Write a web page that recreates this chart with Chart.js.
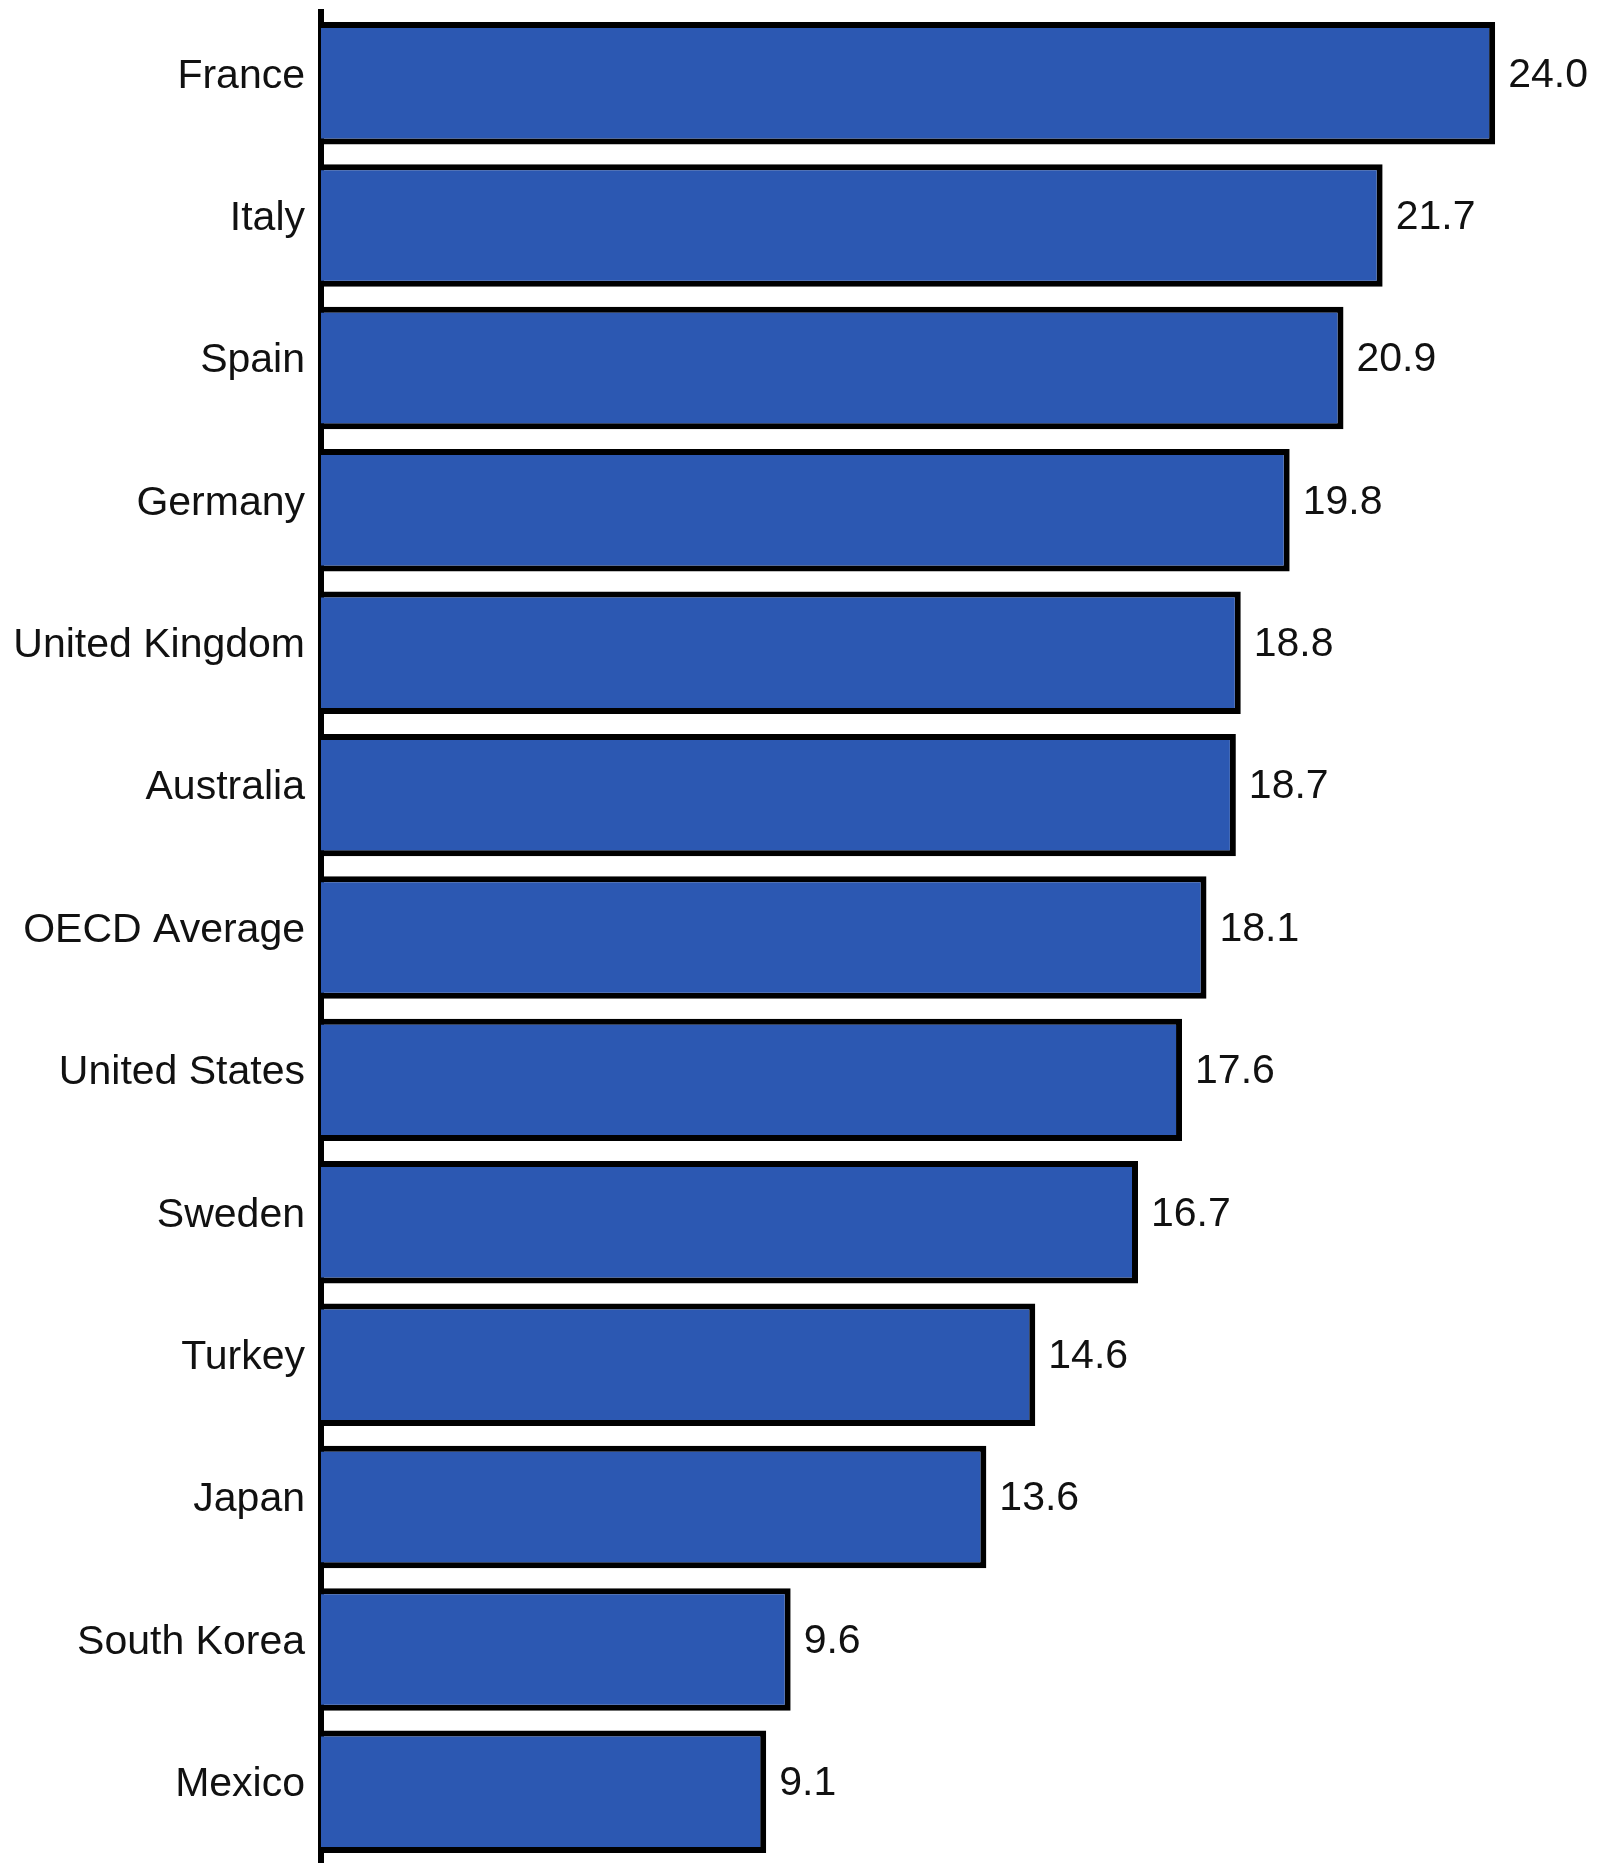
<!DOCTYPE html>
<html>
<head>
<meta charset="utf-8">
<script src="https://cdn.jsdelivr.net/npm/chart.js@4"></script>
<style>
  html, body { margin: 0; padding: 0; background: #fff; }
  #wrap { width: 1610px; height: 1863px; position: relative; }
</style>
</head>
<body>
<div id="wrap"><canvas id="chart"></canvas></div>
<script>
// Countries, top to bottom
const countries = ['France', 'Italy', 'Spain', 'Germany', 'United Kingdom', 'Australia',
    'OECD Average', 'United States', 'Sweden', 'Turkey', 'Japan', 'South Korea', 'Mexico'];
const values = [24.0, 21.7, 20.9, 19.8, 18.8, 18.7, 18.1, 17.6, 16.7, 14.6, 13.6, 9.6, 9.1];

const fontFamily = '"Liberation Sans", Arial, sans-serif';
const fontSize = 41;

// Draws the number next to the end of each bar
const valueLabels = {
    id: 'valueLabels',
    afterDatasetsDraw(chart) {
        const ctx = chart.ctx;
        const meta = chart.getDatasetMeta(0);
        ctx.save();
        ctx.font = fontSize + 'px ' + fontFamily;
        ctx.fillStyle = '#111';
        ctx.textAlign = 'left';
        ctx.textBaseline = 'middle';
        meta.data.forEach((bar, i) => {
            ctx.fillText(values[i].toFixed(1), bar.x + 13, bar.y - 8);
        });
        ctx.restore();
    }
};

const ctx = document.getElementById('chart').getContext('2d');
new Chart(ctx, {
    type: 'bar',
    data: {
        labels: countries,
        datasets: [{
            data: values,
            backgroundColor: '#2c58b2',
            borderColor: '#000',
            borderWidth: 6,
            borderSkipped: 'start',
            categoryPercentage: 1,
            barPercentage: 0.86
        }]
    },
    options: {
        indexAxis: 'y',
        responsive: true,
        maintainAspectRatio: false,
        animation: false,
        layout: { padding: { top: 12, right: 17, bottom: 0, left: 0 } },
        plugins: {
            legend: { display: false },
            tooltip: { enabled: false }
        },
        scales: {
            x: {
                display: false,
                min: 0,
                max: 26
            },
            y: {
                afterFit(scale) {
                    scale.width = 321;
                    // no extra room above/below for the big labels
                    scale.paddingTop = 0;
                    scale.paddingBottom = 0;
                },
                grid: { display: false, drawTicks: false },
                border: { display: true, color: '#000', width: 6 },
                ticks: {
                    color: '#111',
                    padding: 16,
                    labelOffset: -7,
                    font: { family: fontFamily, size: fontSize }
                }
            }
        }
    },
    plugins: [valueLabels]
});
</script>
</body>
</html>
